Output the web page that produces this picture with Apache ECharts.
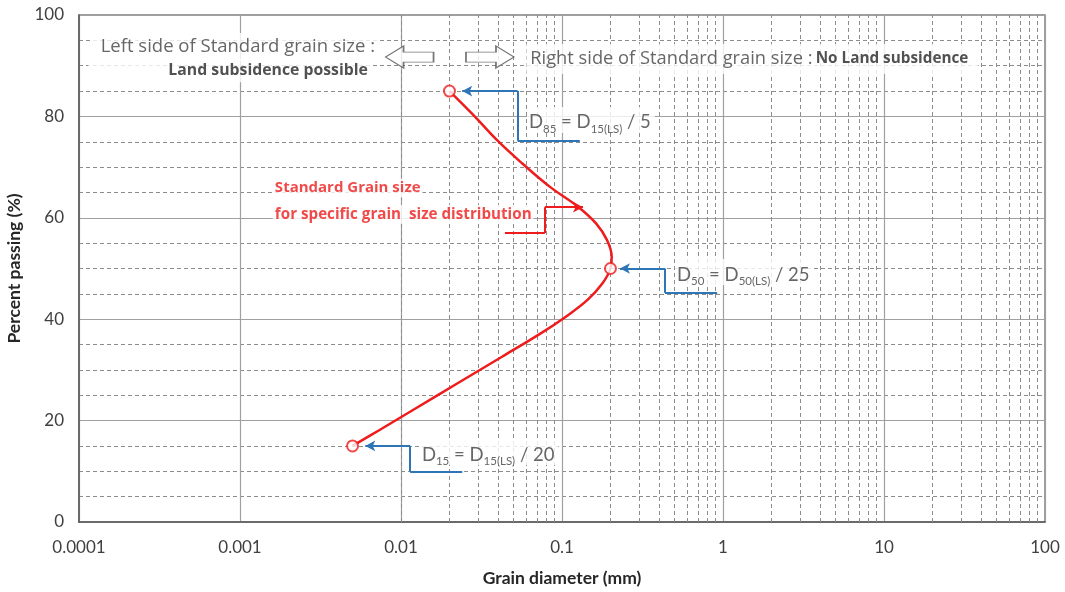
<!DOCTYPE html>
<html><head><meta charset="utf-8">
<script src="https://cdn.jsdelivr.net/npm/echarts@6/dist/echarts.min.js"></script>
<style>html,body{margin:0;padding:0;background:#fff}#c{width:1065px;height:592px}</style>
</head><body><div id="c"></div>
<script>
// ---- data ----
const xTickLabels = ['0.0001','0.001','0.01','0.1','1','10','100'];
const decadeBases = [0.0001, 0.001, 0.01, 0.1, 1, 10];
const minorMultipliers = [2, 3, 4, 5, 6, 7, 8, 9];
const curveX = [0.005, 0.00736, 0.01187, 0.02247, 0.0424, 0.0738, 0.1056, 0.144, 0.1785, 0.2, 0.2036, 0.1904, 0.1627, 0.1257, 0.0842, 0.0565, 0.0395, 0.0281, 0.02];
const curveY = [15, 18.15, 22.1, 27.36, 32.6, 37.2, 40.5, 43.8, 47.1, 50, 52.3, 55.6, 58.9, 62.2, 66.1, 70.75, 75.3, 80.3, 85];
const keyX = [0.005, 0.2, 0.02];
const keyY = [15, 50, 85];
// callout polylines, last point = arrow tip
const calloutD85 = [[0.129, 75.2], [0.053, 75.2], [0.053, 85], [0.024, 85]];
const calloutD50 = [[0.92, 45.2], [0.436, 45.2], [0.436, 50], [0.229, 50]];
const calloutD15 = [[0.024, 10], [0.0114, 10], [0.0114, 15], [0.006, 15]];
const pointerStd = [[0.0442, 57.0], [0.0783, 57.0], [0.0783, 62.1], [0.135, 62.1]];
// text anchors
const txtLeftTitle = [0.0071, 93.7];
const txtLeftSub = [0.0066, 89.0];
const txtRight = [0.06, 91.3];
const txtD85 = [0.0606, 79.3];
const txtD50 = [0.503, 49.3];
const txtD15 = [0.0131, 13.8];
const txtStd1 = [0.0016, 65.9];
const txtStd2 = [0.0016, 60.7];
const arrowLeftPos = [0.0113, 91.7];
const arrowRightPos = [0.0357, 91.7];

const FONT = 'Lato';
const FONT2 = 'Open Sans';
const minorXs = [];
decadeBases.forEach(b => minorMultipliers.forEach(m => minorXs.push(+(b * m).toPrecision(6))));

function segs(poly) {
  const out = [];
  for (let i = 0; i < poly.length - 1; i++) {
    const last = i === poly.length - 2;
    out.push([
      { coord: poly[i], symbol: 'none' },
      { coord: poly[i + 1], symbol: last ? 'arrow' : 'none', symbolSize: last ? [8, 10] : 0 }
    ]);
  }
  return out;
}
function calloutSeries(poly, color) {
  return {
    type: 'line', data: [], z: 4, silent: true,
    markLine: {
      silent: true, symbol: ['none', 'none'], animation: false,
      label: { show: false },
      lineStyle: { color: color, width: 2, type: 'solid' },
      emphasis: { disabled: true },
      data: segs(poly)
    }
  };
}
function textSeries(pos, formatter, opts) {
  return {
    type: 'scatter', data: [pos], symbolSize: 0, z: 6, silent: true,
    label: Object.assign({
      show: true, position: 'right', distance: 0, formatter: formatter,
      fontFamily: FONT2, color: '#404040'
    }, opts)
  };
}
const subRich = {
  m: { fontFamily: FONT, fontSize: 18.5, color: '#404040', verticalAlign: 'bottom', lineHeight: 24 },
  s: { fontFamily: FONT, fontSize: 11.5, color: '#404040', verticalAlign: 'bottom', lineHeight: 24, padding: [0, 0, -3, 0] }
};
const rightArrowPath = 'path://M0,6 L30,6 L30,0 L48,11 L30,22 L30,16 L0,16 Z';
const leftArrowPath = 'path://M48,6 L18,6 L18,0 L0,11 L18,22 L18,16 L48,16 Z';

const chart = echarts.init(document.getElementById('c'), null, { renderer: 'canvas' });
chart.setOption({
  animation: false,
  backgroundColor: '#fff',
  grid: { left: 79, right: 20, top: 15, bottom: 70, show: true, borderColor: '#7f7f7f', borderWidth: 1.5, outerBoundsMode: 'none', containLabel: false },
  xAxis: {
    type: 'log', logBase: 10, min: 0.0001, max: 100,
    name: 'Grain diameter (mm)', nameLocation: 'middle', nameGap: 47,
    nameTextStyle: { fontFamily: FONT, fontWeight: 'bold', fontSize: 17.5, color: '#262626' },
    axisLine: { show: true, lineStyle: { color: '#595959', width: 1.5 } },
    axisTick: { show: false },
    axisLabel: {
      margin: 17, fontFamily: FONT, fontSize: 17, color: '#404040',
      formatter: v => xTickLabels[Math.round(Math.log10(v)) + 4]
    },
    splitLine: { show: true, lineStyle: { color: '#a0a0a0', width: 1.2 } }
  },
  yAxis: {
    type: 'value', min: 0, max: 100, interval: 20,
    name: 'Percent passing (%)', nameLocation: 'middle', nameGap: 52,
    nameTextStyle: { fontFamily: FONT, fontWeight: 'bold', fontSize: 17.5, color: '#262626' },
    axisLine: { show: true, lineStyle: { color: '#595959', width: 1.5 } },
    axisTick: { show: false },
    axisLabel: { margin: 15, fontFamily: FONT, fontSize: 17, color: '#404040' },
    splitLine: { show: true, lineStyle: { color: '#a0a0a0', width: 1.2 } },
    minorTick: { show: false, splitNumber: 4 },
    minorSplitLine: { show: true, lineStyle: { color: '#8c8c8c', width: 1, type: [4, 3] } }
  },
  series: [
    { // vertical minor grid
      type: 'line', data: [], z: 1, silent: true,
      markLine: {
        silent: true, symbol: ['none', 'none'], animation: false,
        label: { show: false },
        lineStyle: { color: '#8c8c8c', width: 1, type: [4, 3] },
        emphasis: { disabled: true },
        data: minorXs.map(v => ({ xAxis: v }))
      }
    },
    {
      type: 'line', data: curveX.map((x, i) => [x, curveY[i]]), smooth: 0.4,
      showSymbol: false, z: 5, silent: true,
      lineStyle: { color: '#ee1c1c', width: 2.5 }
    },
    {
      type: 'scatter', data: keyX.map((x, i) => [x, keyY[i]]), z: 7, silent: true,
      symbol: 'circle', symbolSize: 11,
      itemStyle: { color: '#fff', borderColor: '#ee1c1c', borderWidth: 2 }
    },
    calloutSeries(calloutD85, '#2e75b6'),
    calloutSeries(calloutD50, '#2e75b6'),
    calloutSeries(calloutD15, '#2e75b6'),
    calloutSeries(pointerStd, '#ee1c1c'),
    textSeries(txtLeftTitle, 'Left side of Standard grain size :', { position: 'left', fontSize: 18.5, backgroundColor: '#fff', padding: [6, 2, 3, 8] }),
    textSeries(txtLeftSub, 'Land subsidence possible', { position: 'left', fontSize: 15.8, fontWeight: 'bold', color: '#262626', backgroundColor: '#fff', padding: [2, 4, 5, 80] }),
    textSeries(txtRight, '{a|Right side of Standard grain size :} {b|No Land subsidence}', {
      backgroundColor: '#fff', padding: [6, 10, 6, 4],
      rich: { a: { fontFamily: FONT2, fontSize: 18.3, color: '#404040' }, b: { fontFamily: FONT2, fontSize: 15.3, fontWeight: 'bold', color: '#262626' } }
    }),
    textSeries(txtD85, '{m|D}{s|85}{m| = D}{s|15(LS)}{m| / 5}', { backgroundColor: '#fff', padding: [1, 4, 1, 2], rich: subRich }),
    textSeries(txtD50, '{m|D}{s|50}{m| = D}{s|50(LS)}{m| / 25}', { backgroundColor: '#fff', padding: [1, 4, 1, 2], rich: subRich }),
    textSeries(txtD15, '{m|D}{s|15}{m| = D}{s|15(LS)}{m| / 20}', { backgroundColor: '#fff', padding: [1, 4, 1, 2], rich: subRich }),
    textSeries(txtStd1, 'Standard Grain size', { fontSize: 15, fontWeight: 'bold', color: '#ee1c1c', backgroundColor: '#fff', padding: [2, 2, 2, 2] }),
    textSeries(txtStd2, 'for specific grain  size distribution', { fontSize: 15.2, fontWeight: 'bold', color: '#ee1c1c', backgroundColor: '#fff', padding: [2, 2, 2, 2] }),
    {
      type: 'scatter', z: 8, silent: true,
      data: [
        { value: arrowLeftPos, symbol: leftArrowPath },
        { value: arrowRightPos, symbol: rightArrowPath }
      ],
      symbolSize: [48, 22],
      itemStyle: { color: '#fff', borderColor: '#555', borderWidth: 1.2 }
    }
  ]
});
</script></body></html>
